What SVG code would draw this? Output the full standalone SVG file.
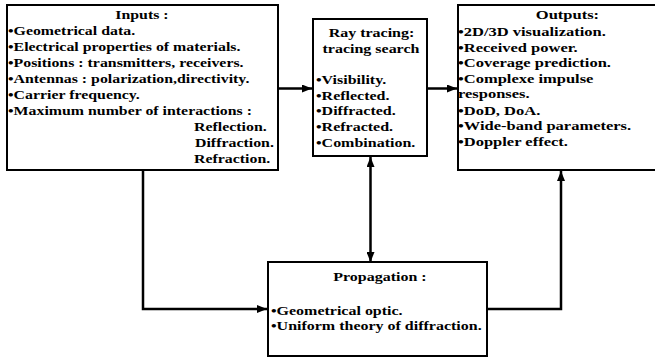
<svg xmlns="http://www.w3.org/2000/svg" width="655" height="359" viewBox="0 0 655 359">
<defs>
<marker id="ah" viewBox="0 0 10 8" refX="10" refY="4" markerWidth="10" markerHeight="8" markerUnits="userSpaceOnUse" orient="auto-start-reverse">
<path d="M0,0 L10,4 L0,8 Z" fill="#000"/>
</marker>
<style>
.box{fill:#fff;stroke:#000;stroke-width:2}
text{font-family:"Liberation Serif","Times New Roman",serif;font-weight:bold;font-size:13px;fill:#000}
.c{text-anchor:middle}
.ln{fill:none;stroke:#000;stroke-width:2.5}
</style>
</defs>
<rect width="655" height="359" fill="#fff"/>
<g id="connectors">
<line class="ln" x1="278" y1="88.5" x2="312" y2="88.5" marker-end="url(#ah)"/>
<line class="ln" x1="427" y1="88.5" x2="457" y2="88.5" marker-end="url(#ah)"/>
<polyline class="ln" points="143,170 143,309 267,309" marker-end="url(#ah)"/>
<line class="ln" x1="370.5" y1="157" x2="370.5" y2="262" marker-start="url(#ah)" marker-end="url(#ah)"/>
<polyline class="ln" points="487,309 561,309 561,171" marker-end="url(#ah)"/>
</g>
<g id="inputs">
<rect class="box" x="7" y="5" width="271" height="165"/>
<g transform="matrix(1.22 0 0 1 8 0)">
<text class="c" x="109.8" y="19.5">Inputs :</text>
<text x="0" y="35.4">•Geometrical data.</text>
<text x="0" y="51.3">•Electrical properties of materials.</text>
<text x="0" y="67.2">•Positions : transmitters, receivers.</text>
<text x="0" y="83.1">•Antennas : polarization,directivity.</text>
<text x="0" y="99">•Carrier frequency.</text>
<text x="0" y="114.9">•Maximum number of interactions :</text>
<text x="152.5" y="130.8">Reflection.</text>
<text x="153.3" y="146.7">Diffraction.</text>
<text x="152.5" y="162.6">Refraction.</text>
</g>
</g>
<g id="raytracing">
<rect class="box" x="313" y="19" width="114" height="137"/>
<g transform="matrix(1.23 0 0 1 316 0)">
<text class="c" x="45.1" y="37">Ray tracing:</text>
<text class="c" x="44.7" y="52.7">tracing search</text>
<text x="0" y="84">•Visibility.</text>
<text x="0" y="99.7">•Reflected.</text>
<text x="0" y="115.4">•Diffracted.</text>
<text x="0" y="131.1">•Refracted.</text>
<text x="0" y="146.8">•Combination.</text>
</g>
</g>
<g id="outputs">
<rect class="box" x="458" y="5" width="210" height="165"/>
<g transform="matrix(1.27 0 0 1 458 0)">
<text class="c" x="86.2" y="19.5">Outputs:</text>
<text x="0" y="36.5">•2D/3D visualization.</text>
<text x="0" y="52">•Received power.</text>
<text x="0" y="67.5">•Coverage prediction.</text>
<text x="0" y="83">•Complexe impulse</text>
<text x="0" y="98.5">responses.</text>
<text x="0" y="115">•DoD, DoA.</text>
<text x="0" y="130.5">•Wide-band parameters.</text>
<text x="0" y="146">•Doppler effect.</text>
</g>
</g>
<g id="propagation">
<rect class="box" x="268" y="262" width="219" height="94"/>
<g transform="matrix(1.23 0 0 1 271 0)">
<text class="c" x="88.6" y="281">Propagation :</text>
<text x="0" y="315">•Geometrical optic.</text>
<text x="0" y="330.5">•Uniform theory of diffraction.</text>
</g>
</g>
</svg>
